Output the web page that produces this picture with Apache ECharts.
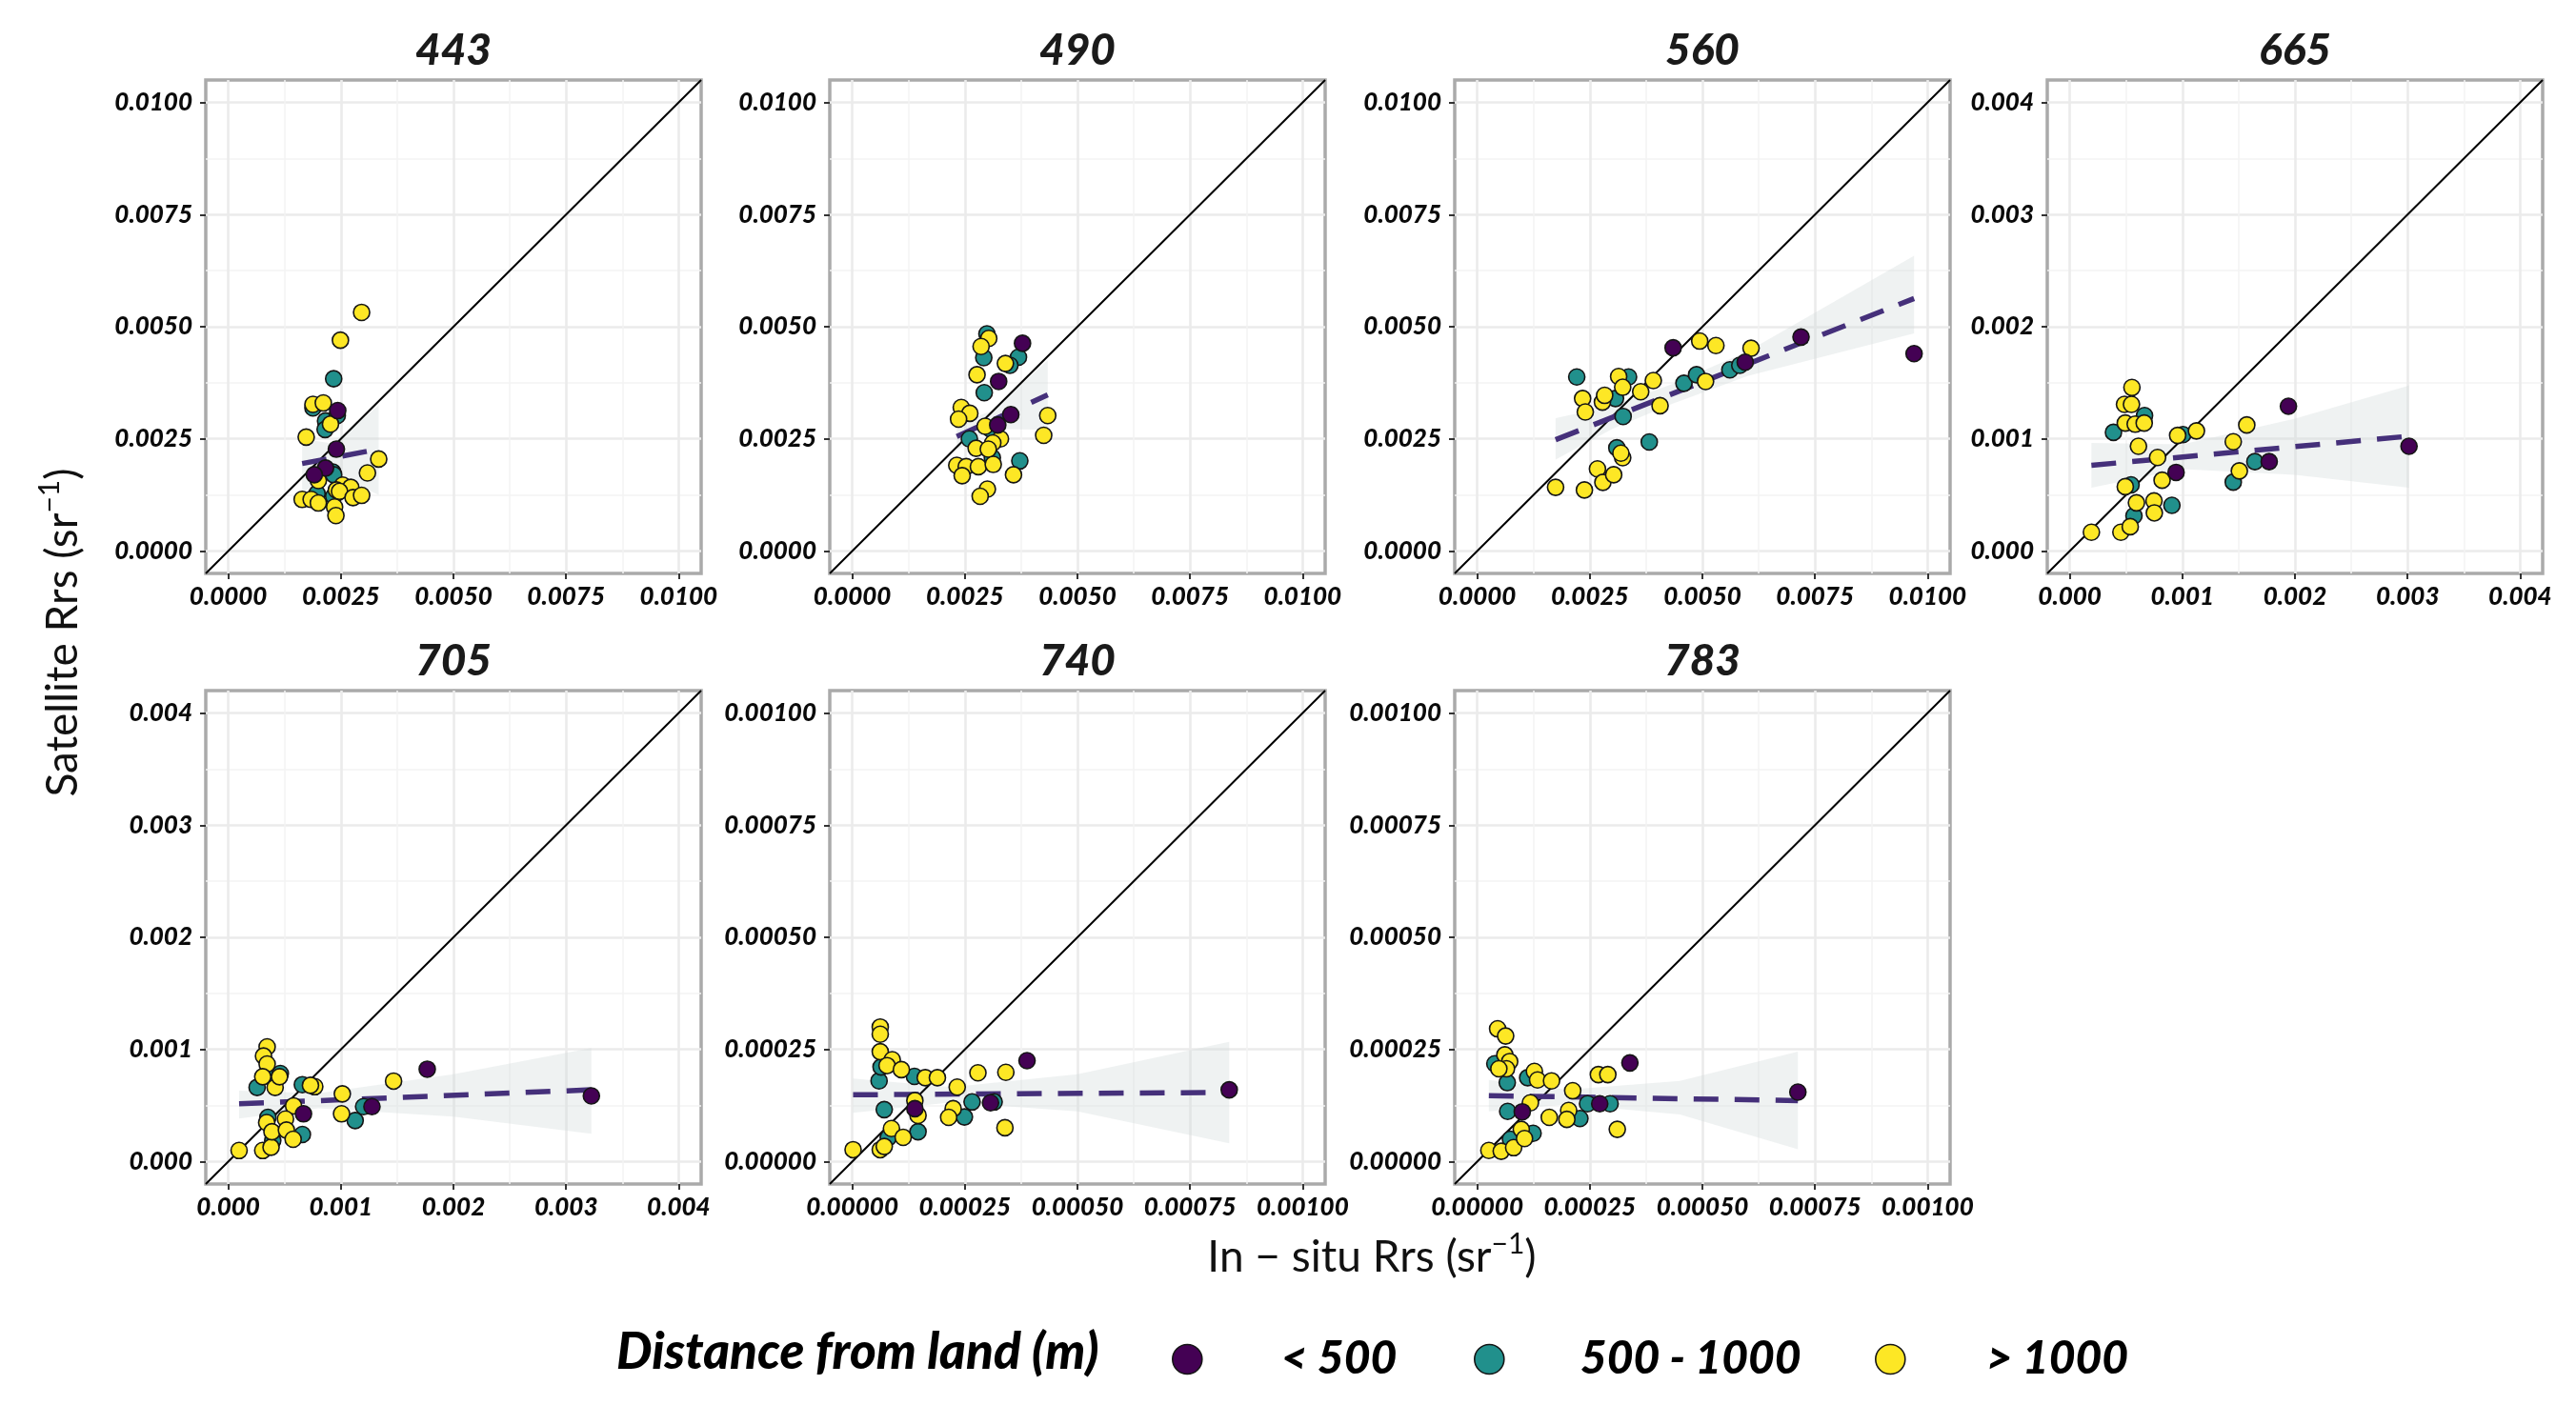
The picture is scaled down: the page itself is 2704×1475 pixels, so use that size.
<!DOCTYPE html>
<html><head><meta charset="utf-8">
<script src="https://cdn.jsdelivr.net/npm/echarts@6/dist/echarts.min.js"></script>
<style>html,body{margin:0;padding:0;background:#fff}#c{width:2704px;height:1475px}</style>
</head><body><div id="c"></div>
<script>
// ---------- DATA ----------
const classNames = ['< 500', '500 - 1000', '> 1000'];
const classColors = ['#440154', '#21908C', '#FDE725'];

const ticksA = [0, 0.0025, 0.005, 0.0075, 0.01];
const labelsA = ['0.0000', '0.0025', '0.0050', '0.0075', '0.0100'];
const minorA = [0.00125, 0.00375, 0.00625, 0.00875];
const rangeA = [-0.0005, 0.0105];

const ticksB = [0, 0.001, 0.002, 0.003, 0.004];
const labelsB = ['0.000', '0.001', '0.002', '0.003', '0.004'];
const minorB = [0.0005, 0.0015, 0.0025, 0.0035];
const rangeB = [-0.0002, 0.0042];

const ticksC = [0, 0.00025, 0.0005, 0.00075, 0.001];
const labelsC = ['0.00000', '0.00025', '0.00050', '0.00075', '0.00100'];
const minorC = [0.000125, 0.000375, 0.000625, 0.000875];
const rangeC = [-0.00005, 0.00105];

// 443
const near443 = [[0.00243,0.00313],[0.00240,0.00227],[0.00216,0.00185],[0.00191,0.00170]];
const mid443 = [[0.00234,0.00384],[0.00188,0.00319],[0.00216,0.00290],[0.00215,0.00271],[0.00242,0.00302],[0.00232,0.00176],[0.00234,0.00170],[0.00197,0.00128],[0.00234,0.00122]];
const far443 = [[0.00296,0.00532],[0.00249,0.00470],[0.00188,0.00327],[0.00211,0.00330],[0.00173,0.00254],[0.00227,0.00283],[0.00334,0.00205],[0.00309,0.00174],[0.00200,0.00157],[0.00254,0.00147],[0.00272,0.00142],[0.00240,0.00136],[0.00247,0.00133],[0.00277,0.00119],[0.00296,0.00124],[0.00164,0.00115],[0.00184,0.00115],[0.00200,0.00107],[0.00236,0.00098],[0.00239,0.00079]];
const fit443 = [[0.00164,0.00195],[0.00334,0.00227]];
const band443 = [[0.00164,0.00130,0.00250],[0.00230,0.00172,0.00240],[0.00334,0.00125,0.00325]];

// 490
const near490 = [[0.00378,0.00463],[0.00325,0.00378],[0.00352,0.00304],[0.00323,0.00281]];
const mid490 = [[0.00299,0.00484],[0.00292,0.00431],[0.00369,0.00432],[0.00350,0.00414],[0.00293,0.00353],[0.00260,0.00250],[0.00307,0.00272],[0.00311,0.00208],[0.00372,0.00201]];
const far490 = [[0.00303,0.00474],[0.00286,0.00456],[0.00340,0.00418],[0.00277,0.00393],[0.00242,0.00320],[0.00261,0.00307],[0.00236,0.00294],[0.00434,0.00302],[0.00425,0.00258],[0.00295,0.00278],[0.00329,0.00250],[0.00312,0.00241],[0.00275,0.00229],[0.00302,0.00227],[0.00232,0.00191],[0.00253,0.00188],[0.00280,0.00188],[0.00313,0.00193],[0.00244,0.00168],[0.00358,0.00170],[0.00300,0.00138],[0.00284,0.00122]];
const fit490 = [[0.00232,0.00255],[0.00434,0.00348]];
const band490 = [[0.00232,0.00225,0.00285],[0.00310,0.00272,0.00312],[0.00434,0.00270,0.00425]];

// 560
const near560 = [[0.00435,0.00453],[0.00595,0.00421],[0.00719,0.00477],[0.00970,0.00440]];
const mid560 = [[0.00221,0.00388],[0.00336,0.00388],[0.00307,0.00340],[0.00324,0.00300],[0.00310,0.00230],[0.00382,0.00243],[0.00459,0.00374],[0.00487,0.00393],[0.00561,0.00404],[0.00583,0.00414]];
const far560 = [[0.00174,0.00142],[0.00238,0.00136],[0.00267,0.00183],[0.00279,0.00153],[0.00303,0.00170],[0.00323,0.00208],[0.00319,0.00218],[0.00234,0.00340],[0.00240,0.00310],[0.00278,0.00332],[0.00283,0.00347],[0.00314,0.00389],[0.00323,0.00365],[0.00363,0.00355],[0.00391,0.00380],[0.00406,0.00324],[0.00494,0.00468],[0.00530,0.00458],[0.00507,0.00378],[0.00608,0.00452]];
const fit560 = [[0.00174,0.00248],[0.00970,0.00563]];
const band560 = [[0.00174,0.00204,0.00296],[0.00300,0.00272,0.00324],[0.00430,0.00327,0.00371],[0.00600,0.00390,0.00445],[0.00970,0.00485,0.00658]];

// 665
const near665 = [[0.000944,0.000701],[0.001771,0.000797],[0.001942,0.001291],[0.003013,0.000934]];
const mid665 = [[0.000388,0.001058],[0.000664,0.001208],[0.001005,0.001038],[0.000544,0.000590],[0.000570,0.000314],[0.000907,0.000407],[0.001452,0.000614],[0.001644,0.000797]];
const far665 = [[0.000552,0.001458],[0.000486,0.001308],[0.000548,0.001308],[0.000493,0.001141],[0.000581,0.001131],[0.000661,0.001141],[0.000610,0.000934],[0.000958,0.001031],[0.001125,0.001071],[0.000780,0.000834],[0.000820,0.000631],[0.000493,0.000574],[0.000592,0.000430],[0.000748,0.000447],[0.000751,0.000340],[0.000192,0.000167],[0.000454,0.000167],[0.000537,0.000217],[0.001452,0.000974],[0.001572,0.001124],[0.001506,0.000714]];
const fit665 = [[0.000192,0.000764],[0.003013,0.001024]];
const band665 = [[0.000192,0.000564,0.000964],[0.001000,0.000730,0.000950],[0.002000,0.000680,0.001180],[0.003013,0.000564,0.001475]];

// 705
const near705 = [[0.000668,0.000426],[0.001276,0.000490],[0.001767,0.000824],[0.003225,0.000586]];
const mid705 = [[0.000256,0.000661],[0.000380,0.000764],[0.000462,0.000785],[0.000658,0.000686],[0.000352,0.000394],[0.000395,0.000188],[0.000658,0.000242],[0.001202,0.000490],[0.001127,0.000366]];
const far705 = [[0.000096,0.000099],[0.000306,0.000099],[0.000380,0.000128],[0.000345,0.001023],[0.000313,0.000941],[0.000345,0.000870],[0.000306,0.000757],[0.000416,0.000661],[0.000455,0.000757],[0.000768,0.000668],[0.000730,0.000680],[0.000580,0.000497],[0.000508,0.000380],[0.000341,0.000348],[0.000388,0.000266],[0.000516,0.000281],[0.000576,0.000199],[0.001013,0.000604],[0.001006,0.000426],[0.001468,0.000718]];
const fit705 = [[0.000096,0.000515],[0.003225,0.000640]];
const band705 = [[0.000096,0.000384,0.000632],[0.000800,0.000475,0.000610],[0.002000,0.000400,0.000780],[0.003225,0.000249,0.001012]];

// 740
const near740 = [[0.000139,0.000118],[0.000307,0.000131],[0.000388,0.000225],[0.000837,0.000160]];
const mid740 = [[0.0000595,0.000180],[0.0000639,0.000211],[0.0000816,0.000223],[0.0000710,0.000116],[0.000138,0.000190],[0.0000799,0.0000533],[0.000146,0.0000666],[0.000266,0.000133],[0.000249,0.0000995],[0.000315,0.000133]];
const far740 = [[0.0000018,0.0000266],[0.0000621,0.000300],[0.0000621,0.000284],[0.0000621,0.000245],[0.0000887,0.000227],[0.0000772,0.000214],[0.000109,0.000205],[0.000162,0.000187],[0.000189,0.000187],[0.000233,0.000166],[0.000279,0.000198],[0.000341,0.000199],[0.000139,0.000136],[0.000146,0.000103],[0.000224,0.000118],[0.000214,0.0000986],[0.000339,0.0000755],[0.0000870,0.0000737],[0.000113,0.0000542],[0.0000621,0.0000266],[0.0000710,0.0000337]];
const fit740 = [[0.0000018,0.000149],[0.000837,0.000154]];
const band740 = [[0.0000018,0.000109,0.000185],[0.000220,0.000132,0.000166],[0.000500,0.000112,0.000195],[0.000837,0.0000409,0.000267]];

// 783
const near783 = [[0.000100,0.000111],[0.000272,0.000129],[0.000339,0.000220],[0.000712,0.000155]];
const mid783 = [[0.0000391,0.000218],[0.0000667,0.000176],[0.0000676,0.000112],[0.000112,0.000187],[0.0000738,0.0000497],[0.000124,0.0000631],[0.000245,0.000129],[0.000295,0.000129],[0.000228,0.0000959]];
const far783 = [[0.0000258,0.0000249],[0.0000533,0.0000231],[0.0000809,0.0000311],[0.0000453,0.000296],[0.0000631,0.000280],[0.0000613,0.000238],[0.0000720,0.000223],[0.0000649,0.000207],[0.0000480,0.000207],[0.000127,0.000201],[0.000134,0.000182],[0.000165,0.000180],[0.000212,0.000158],[0.000118,0.000131],[0.000160,0.0000986],[0.000203,0.000114],[0.000199,0.0000941],[0.000269,0.000194],[0.000290,0.000194],[0.000311,0.0000719],[0.0000978,0.0000719],[0.000105,0.0000515]];
const fit783 = [[0.0000258,0.000147],[0.000712,0.000136]];
const band783 = [[0.0000258,0.000112,0.000182],[0.000200,0.000128,0.000160],[0.000450,0.000105,0.000180],[0.000712,0.0000275,0.000245]];

const panels = [
  {name:'443', range:rangeA, ticks:ticksA, labels:labelsA, minor:minorA, pts:[near443, mid443, far443], fit:fit443, band:band443},
  {name:'490', range:rangeA, ticks:ticksA, labels:labelsA, minor:minorA, pts:[near490, mid490, far490], fit:fit490, band:band490},
  {name:'560', range:rangeA, ticks:ticksA, labels:labelsA, minor:minorA, pts:[near560, mid560, far560], fit:fit560, band:band560},
  {name:'665', range:rangeB, ticks:ticksB, labels:labelsB, minor:minorB, pts:[near665, mid665, far665], fit:fit665, band:band665},
  {name:'705', range:rangeB, ticks:ticksB, labels:labelsB, minor:minorB, pts:[near705, mid705, far705], fit:fit705, band:band705},
  {name:'740', range:rangeC, ticks:ticksC, labels:labelsC, minor:minorC, pts:[near740, mid740, far740], fit:fit740, band:band740},
  {name:'783', range:rangeC, ticks:ticksC, labels:labelsC, minor:minorC, pts:[near783, mid783, far783], fit:fit783, band:band783}
];

// ---------- LAYOUT ----------
const FONT = 'Lato, "DejaVu Sans", sans-serif';
const gLeft = [216, 871, 1527, 2149, 216, 871, 1527];
const gTop = [84, 84, 84, 84, 725, 725, 725];
const gW = 520, gH = 518;

function labelFmt(p) {
  return function (v) {
    let k = 0, best = Infinity;
    p.ticks.forEach(function (t, j) { const d = Math.abs(t - v); if (d < best) { best = d; k = j; } });
    return p.labels[k];
  };
}

const grids = [], xAxes = [], yAxes = [], series = [], graphics = [];
const labelStyle = {fontFamily: FONT, fontSize: 26, fontWeight: 900, fontStyle: 'italic', color: '#0a0a0a'};

panels.forEach(function (p, i) {
  grids.push({left: gLeft[i], top: gTop[i], width: gW, height: gH, show: true,
    borderColor: '#aaaaaa', borderWidth: 3.5, backgroundColor: '#ffffff', containLabel: false, outerBoundsMode: 'none'});
  function mainAxis(pos) {
    return {gridIndex: i, type: 'value', min: p.range[0], max: p.range[1], position: pos,
      axisLine: {show: false, onZero: false},
      axisTick: {show: true, length: 6, lineStyle: {color: '#333', width: 2}, customValues: p.ticks},
      axisLabel: Object.assign({customValues: p.ticks, formatter: labelFmt(p), margin: pos === 'bottom' ? 12 : 14}, labelStyle),
      splitLine: {show: true, lineStyle: {color: '#ebebeb', width: 2.6}}};
  }
  function minorAxis(pos) {
    return {gridIndex: i, type: 'value', min: p.range[0], max: p.range[1], position: pos,
      axisLine: {show: false, onZero: false},
      axisTick: {show: false, customValues: p.minor},
      axisLabel: {show: false},
      splitLine: {show: true, lineStyle: {color: '#f3f3f3', width: 1.5}}};
  }
  xAxes.push(mainAxis('bottom'), minorAxis('top'));
  yAxes.push(mainAxis('left'), minorAxis('right'));
  const xi = 2 * i, yi = 2 * i;

  series.push({type: 'custom', xAxisIndex: xi, yAxisIndex: yi, silent: true, z: 2,
    data: p.band, encode: {x: 0, y: [1, 2]},
    renderItem: function (params, api) {
      if (params.dataIndex !== 0) return null;
      const up = p.band.map(function (b) { return api.coord([b[0], b[2]]); });
      const dn = p.band.slice().reverse().map(function (b) { return api.coord([b[0], b[1]]); });
      return {type: 'polygon', shape: {points: up.concat(dn)}, style: {fill: 'rgba(210,218,218,0.35)'}};
    }});
  series.push({type: 'line', xAxisIndex: xi, yAxisIndex: yi, silent: true, z: 3, symbol: 'none',
    data: [[p.range[0], p.range[0]], [p.range[1], p.range[1]]],
    lineStyle: {color: '#000', width: 2}});
  series.push({type: 'line', xAxisIndex: xi, yAxisIndex: yi, silent: true, z: 4, symbol: 'none',
    data: p.fit, lineStyle: {color: '#45307a', width: 5.5, type: [26, 17]}});
  [1, 2, 0].forEach(function (c) {
    series.push({type: 'scatter', name: classNames[c], xAxisIndex: xi, yAxisIndex: yi, z: 5,
      data: p.pts[c], symbol: 'circle', symbolSize: 17,
      itemStyle: {color: classColors[c], borderColor: '#151515', borderWidth: 1.6, opacity: 1}});
  });
  graphics.push({type: 'text', x: gLeft[i] + gW / 2, y: gTop[i] - 31,
    style: {text: p.name, fontFamily: FONT, fontSize: 46, fontWeight: 900, fontStyle: 'italic', fill: '#1a1a1a',
      align: 'center', verticalAlign: 'middle', textAlign: 'center', textVerticalAlign: 'middle'}});
});

const supRich = {sup: {fontFamily: FONT, fontSize: 30, verticalAlign: 'top', lineHeight: 32, fill: '#111'}};
graphics.push({type: 'text', x: 66, y: 664, rotation: Math.PI / 2,
  style: {text: 'Satellite Rrs (sr{sup|\u22121})', rich: supRich, fontFamily: FONT, fontSize: 46, lineHeight: 58, fill: '#111',
    align: 'center', verticalAlign: 'middle', textAlign: 'center', textVerticalAlign: 'middle'}});
graphics.push({type: 'text', x: 1440, y: 1320,
  style: {text: 'In \u2212 situ Rrs (sr{sup|\u22121})', rich: supRich, fontFamily: FONT, fontSize: 46, lineHeight: 58, fill: '#111',
    align: 'center', verticalAlign: 'middle', textAlign: 'center', textVerticalAlign: 'middle'}});
graphics.push({type: 'text', x: 647, y: 1420,
  style: {text: 'Distance from land (m)', fontFamily: FONT, fontSize: 53, fontWeight: 900, fontStyle: 'italic', fill: '#000',
    align: 'left', verticalAlign: 'middle', textAlign: 'left', textVerticalAlign: 'middle'}});

const legendLeft = [1230, 1547, 1968];
const legendPad = [78, 75, 80];
const legends = classNames.map(function (n, k) {
  return {data: [n], left: legendLeft[k], top: 1403, padding: 0, itemWidth: 31, itemHeight: 31, icon: 'circle',
    selectedMode: false, itemStyle: {borderColor: '#151515', borderWidth: 1.6},
    textStyle: {fontFamily: FONT, fontSize: 48, fontWeight: 900, fontStyle: 'italic', color: '#000', padding: [0, 0, 0, legendPad[k]]}};
});

const chart = echarts.init(document.getElementById('c'), null, {renderer: 'canvas'});
chart.setOption({
  animation: false,
  backgroundColor: '#ffffff',
  grid: grids, xAxis: xAxes, yAxis: yAxes, series: series,
  legend: legends, graphic: graphics
});
</script></body></html>
